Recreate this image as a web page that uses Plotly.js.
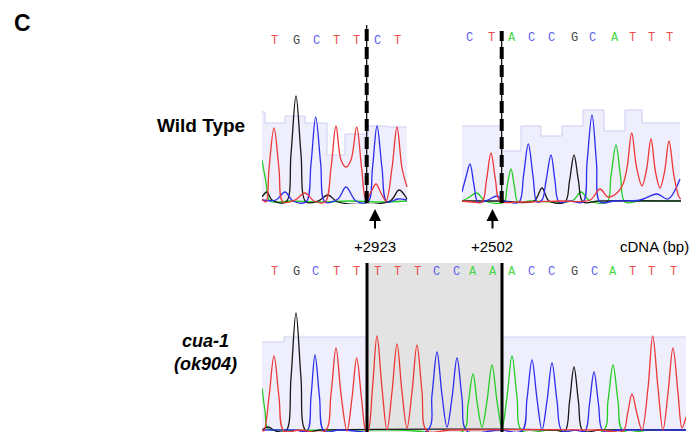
<!DOCTYPE html>
<html>
<head>
<meta charset="utf-8">
<script src="https://cdn.plot.ly/plotly-3.0.1.min.js"></script>
<style>html,body{margin:0;padding:0;background:#fff;}#chart{width:691px;height:432px;}</style>
</head>
<body>
<div id="chart"></div>
<script>
// ---------- Wild type, left window (around +2923) ----------
const wtL_bases = ['T','G','C','T','T','C','T'];
const wtL_basePos = [274, 296, 316, 336, 356, 377, 397];
const wtL_qualX = [262, 265, 285, 305, 327, 345, 368, 387, 407];
const wtL_qualY = [90, 79, 86, 79, 47, 68, 76, 75, 75];
const wtL_T_x = [262, 266, 269, 274, 279, 283, 295, 305, 314, 325, 331, 336, 341, 346, 351, 356.7, 361.7, 366, 371, 376, 381, 386, 392, 397, 402, 407];
const wtL_T_y = [3, 0, 33, 74, 33, 0, 2, 9, 1, 0, 34, 76, 42, 35, 42, 75, 33, 2, 10, 18, 9, 1, 34, 75, 34, 15];
const wtL_G_x = [262, 267, 272, 286, 291, 296, 301, 306, 318, 328, 338, 390, 399, 407];
const wtL_G_y = [5, 10, 2, 0, 48, 106, 48, 0, 1, 7, 0, 1, 12, 3];
const wtL_C_x = [262, 276, 285, 293, 306, 311, 315.7, 320.7, 325, 338, 346, 356, 368, 372.5, 377, 382, 387, 398, 407];
const wtL_C_y = [2, 2, 10, 1, 0, 38, 85, 38, 0, 3, 15, 1, 0, 34, 76, 34, 0, 3, 2];
const wtL_A_x = [262, 266, 270, 290, 320, 350, 380, 407];
const wtL_A_y = [42, 20, 1, 1, 0, 1, 0, 1];

// ---------- Wild type, right window (around +2502) ----------
const wtR_bases = ['C','T','A','C','C','G','C','A','T','T','T'];
const wtR_basePos = [470, 491.7, 511.7, 531, 551.7, 574, 592, 615, 632.7, 651.7, 669];
const wtR_qualX = [462, 501.7, 521, 541, 562, 583, 604, 625, 642, 680];
const wtR_qualY = [76, 51, 76, 66, 76, 92, 71, 92, 79, 79];
const wtR_C_x = [462, 466, 470, 474, 478, 488, 497, 505, 519, 523.5, 528.3, 533, 537, 542, 546, 551, 555, 559, 570, 583, 587, 592, 596.5, 600, 615, 640, 657, 668, 680];
const wtR_C_y = [10, 25, 38, 17, 0, 2, 6, 1, 0, 26, 58, 26, 0, 2, 21, 47, 21, 0, 1, 0, 39, 87, 39, 0, 1, 2, 8, 3, 23];
const wtR_T_x = [462, 472, 482, 486.5, 491, 495.5, 500, 520, 560, 590, 600, 608, 618, 623, 627, 631.7, 636.5, 642, 646.5, 651, 655.5, 660, 664.5, 669, 674, 679, 681];
const wtR_T_y = [1, 0, 0, 22, 49, 22, 1, 0, 1, 2, 13, 5, 10, 18, 34, 69, 35, 16, 32, 63, 30, 14, 30, 61, 26, 5, 3];
const wtR_A_x = [462, 468, 477, 485, 504, 507, 511, 514.5, 518, 530, 572, 581, 590, 607, 611, 616, 620.5, 625, 640, 681];
const wtR_A_y = [1, 4, 9, 1, 0, 15, 33, 15, 0, 1, 1, 10, 1, 0, 26, 57, 26, 0, 1, 1];
const wtR_G_x = [462, 500, 534, 542, 549, 565, 569.5, 574, 578.5, 583, 600, 681];
const wtR_G_y = [1, 1, 1, 14, 1, 0, 21, 47, 21, 0, 1, 1];

// ---------- cua-1 (ok904) ----------
const mut_bases = ['T','G','C','T','T','T','T','T','C','C','A','A','A','C','C','G','C','A','T','T','T'];
const mut_basePos = [274, 296, 315.7, 336, 356.7, 377, 397, 417, 436.7, 456.7, 472.7, 492.7, 511.7, 531.7, 551.7, 574, 594, 612.7, 632, 651.7, 673];
const mut_qualLX = [262, 284, 366];
const mut_qualLY = [89, 94, 94];
const mut_qualRX = [503, 686];
const mut_qualRY = [94, 94];
const mut_T_x = [262, 264, 269, 274, 279, 284, 300, 325, 331, 336, 341, 347, 352, 356.7, 361.5, 366, 368, 372.5, 377, 382, 387, 392, 397, 402, 407, 412, 417, 422, 427, 450, 600, 623, 627.5, 632, 637, 642, 648, 652.7, 658, 663, 668, 673, 678, 682, 686];
const mut_T_y = [2, 0, 34, 75, 34, 0, 1, 0, 37, 83, 37, 0, 33, 73, 33, 0, 0, 43, 95, 43, 1, 39, 87, 39, 3, 39, 86, 39, 0, 1, 1, 0, 17, 37, 17, 1, 43, 95, 43, 1, 38, 83, 38, 3, 14];
const mut_G_x = [262, 268, 276, 286, 291, 296, 301, 306, 320, 555, 565, 569.5, 574, 578.5, 583, 600, 686];
const mut_G_y = [1, 4, 0, 0, 53, 118, 53, 0, 1, 1, 0, 29, 64, 29, 0, 1, 1];
const mut_C_x = [262, 295, 307, 311, 315, 319.5, 324, 340, 427, 432, 437, 442, 447, 452, 457, 462, 467, 500, 522, 527, 532, 537, 542, 547, 552, 557, 562, 575, 585, 589.5, 594, 598.5, 603, 620, 686];
const mut_C_y = [1, 1, 0, 34, 76, 34, 0, 1, 0, 36, 79, 36, 4, 33, 73, 33, 0, 1, 0, 32, 71, 32, 1, 30, 68, 30, 0, 1, 0, 27, 59, 27, 0, 1, 1];
const mut_A_x = [262, 265, 268, 280, 400, 463, 468, 473, 477.5, 482, 487, 492, 497, 502, 507, 512, 517, 522, 550, 603, 608, 613, 618, 623, 650, 686];
const mut_A_y = [43, 20, 2, 1, 1, 0, 26, 57, 26, 4, 30, 66, 30, 3, 34, 75, 34, 0, 1, 0, 30, 66, 30, 0, 1, 1];

// insertion region & marked positions
const insertStart = 367, insertEnd = 502;
const wtCutL = 366.7, wtCutR = 501.7;
const arrowPosL = 375, arrowPosR = 492.5;
const posLabels = ['+2923', '+2502'];

const W = 691, H = 432;
const px = v => v / W;           // pixel x -> paper
const py = v => 1 - v / H;       // pixel y -> paper

const baseColor = {T: 'rgb(240,75,75)', G: 'rgb(70,70,70)', C: 'rgb(95,95,240)', A: 'rgb(70,215,70)'};
const traceColor = {T: 'rgb(238,55,55)', G: 'rgb(25,25,25)', C: 'rgb(45,45,238)', A: 'rgb(35,205,35)'};

const data = [];
function qual(x, y, xa, ya) {
  data.push({x: x, y: y, xaxis: xa, yaxis: ya, type: 'scatter', mode: 'lines',
    line: {shape: 'hv', color: 'rgb(205,205,242)', width: 1},
    fill: 'tozeroy', fillcolor: 'rgba(232,232,251,0.75)', hoverinfo: 'skip', showlegend: false});
}
function sig(x, y, b, xa, ya) {
  data.push({x: x, y: y, xaxis: xa, yaxis: ya, type: 'scatter', mode: 'lines',
    line: {shape: 'spline', smoothing: 1, color: traceColor[b], width: 1.3},
    hoverinfo: 'skip', showlegend: false});
}
qual(wtL_qualX, wtL_qualY, 'x', 'y');
qual(wtR_qualX, wtR_qualY, 'x2', 'y2');
qual(mut_qualLX, mut_qualLY, 'x3', 'y3');
qual(mut_qualRX, mut_qualRY, 'x3', 'y3');

sig(wtL_A_x, wtL_A_y, 'A', 'x', 'y');
sig(wtL_G_x, wtL_G_y, 'G', 'x', 'y');
sig(wtL_C_x, wtL_C_y, 'C', 'x', 'y');
sig(wtL_T_x, wtL_T_y, 'T', 'x', 'y');
sig(wtR_A_x, wtR_A_y, 'A', 'x2', 'y2');
sig(wtR_G_x, wtR_G_y, 'G', 'x2', 'y2');
sig(wtR_C_x, wtR_C_y, 'C', 'x2', 'y2');
sig(wtR_T_x, wtR_T_y, 'T', 'x2', 'y2');
sig(mut_A_x, mut_A_y, 'A', 'x3', 'y3');
sig(mut_G_x, mut_G_y, 'G', 'x3', 'y3');
sig(mut_C_x, mut_C_y, 'C', 'x3', 'y3');
sig(mut_T_x, mut_T_y, 'T', 'x3', 'y3');

const annotations = [];
function letters(bases, pos, xref, ypx) {
  bases.forEach((b, i) => annotations.push({x: pos[i], xref: xref, y: py(ypx), yref: 'paper',
    text: b, showarrow: false, xanchor: 'center', yanchor: 'middle',
    font: {family: 'Liberation Mono, monospace', size: 12, color: baseColor[b]}}));
}
letters(wtL_bases, wtL_basePos, 'x', 41);
letters(wtR_bases, wtR_basePos, 'x2', 38);
letters(mut_bases, mut_basePos, 'x3', 272);

const lab = {family: 'Liberation Sans, Arial, sans-serif', color: '#000'};
annotations.push({x: px(12), y: py(23.5), xref: 'paper', yref: 'paper', text: '<b>C</b>', showarrow: false,
  xanchor: 'left', yanchor: 'middle', font: Object.assign({size: 23}, lab)});
annotations.push({x: px(247), y: py(125.5), xref: 'paper', yref: 'paper', text: '<b>Wild Type</b>', showarrow: false,
  xanchor: 'right', yanchor: 'middle', font: Object.assign({size: 19}, lab)});
annotations.push({x: px(206), y: py(352.5), xref: 'paper', yref: 'paper', text: '<b><i>cua-1</i></b><br><b><i>(ok904)</i></b>', showarrow: false,
  xanchor: 'center', yanchor: 'middle', align: 'center', font: Object.assign({size: 18}, lab)});
// arrows
[[arrowPosL, 'x'], [arrowPosR, 'x2']].forEach(([xv, xr], i) => {
  annotations.push({x: xv, xref: xr, y: py(209), yref: 'paper', text: '', showarrow: true,
    ax: 0, ay: 21, axref: 'pixel', ayref: 'pixel', arrowhead: 2, arrowsize: 1.2, arrowwidth: 2, arrowcolor: '#000'});
  annotations.push({x: xv, xref: xr, y: py(246.5), yref: 'paper', text: posLabels[i], showarrow: false,
    xanchor: 'center', yanchor: 'middle', font: Object.assign({size: 15}, lab)});
});
annotations.push({x: px(654), y: py(246.5), xref: 'paper', yref: 'paper', text: 'cDNA (bp)', showarrow: false,
  xanchor: 'center', yanchor: 'middle', font: Object.assign({size: 15}, lab)});

const shapes = [
  // inserted sequence box in mutant
  {type: 'rect', xref: 'x3', yref: 'y3', x0: insertStart, x1: insertEnd, y0: -1, y1: 168, layer: 'below',
   fillcolor: 'rgb(227,227,227)', line: {width: 0}},
  {type: 'line', xref: 'x3', yref: 'y3', x0: insertStart, x1: insertStart, y0: -1, y1: 168, line: {color: '#000', width: 3}},
  {type: 'line', xref: 'x3', yref: 'y3', x0: insertEnd, x1: insertEnd, y0: -1, y1: 168, line: {color: '#000', width: 3}},
  // dashed breakpoints in wild type
  {type: 'line', xref: 'x', yref: 'y', x0: wtCutL, x1: wtCutL, y0: -1, y1: 177, line: {color: '#000', width: 1.2}},
  {type: 'line', xref: 'x', yref: 'y', x0: wtCutL, x1: wtCutL, y0: -1, y1: 177, line: {color: '#000', width: 4, dash: '12px,6px'}},
  {type: 'line', xref: 'x2', yref: 'y2', x0: wtCutR, x1: wtCutR, y0: -1, y1: 171, line: {color: '#000', width: 1.2}},
  {type: 'line', xref: 'x2', yref: 'y2', x0: wtCutR, x1: wtCutR, y0: -1, y1: 171, line: {color: '#000', width: 4, dash: '12px,6px'}}
];

const hid = {visible: false, fixedrange: true};
const layout = {
  width: W, height: H, margin: {l: 0, r: 0, t: 0, b: 0}, autosize: false,
  paper_bgcolor: '#fff', plot_bgcolor: 'rgba(0,0,0,0)', showlegend: false,
  xaxis: Object.assign({domain: [px(262), px(408)], range: [262, 408], anchor: 'y'}, hid),
  yaxis: Object.assign({domain: [py(204), py(20)], range: [-2, 182], anchor: 'x'}, hid),
  xaxis2: Object.assign({domain: [px(462), px(681)], range: [462, 681], anchor: 'y2'}, hid),
  yaxis2: Object.assign({domain: [py(204), py(20)], range: [-2, 182], anchor: 'x2'}, hid),
  xaxis3: Object.assign({domain: [px(262), px(686)], range: [262, 686], anchor: 'y3'}, hid),
  yaxis3: Object.assign({domain: [py(432), py(255)], range: [-1, 176], anchor: 'x3'}, hid),
  annotations: annotations, shapes: shapes
};
Plotly.newPlot('chart', data, layout, {staticPlot: true, displayModeBar: false});
</script>
</body>
</html>
